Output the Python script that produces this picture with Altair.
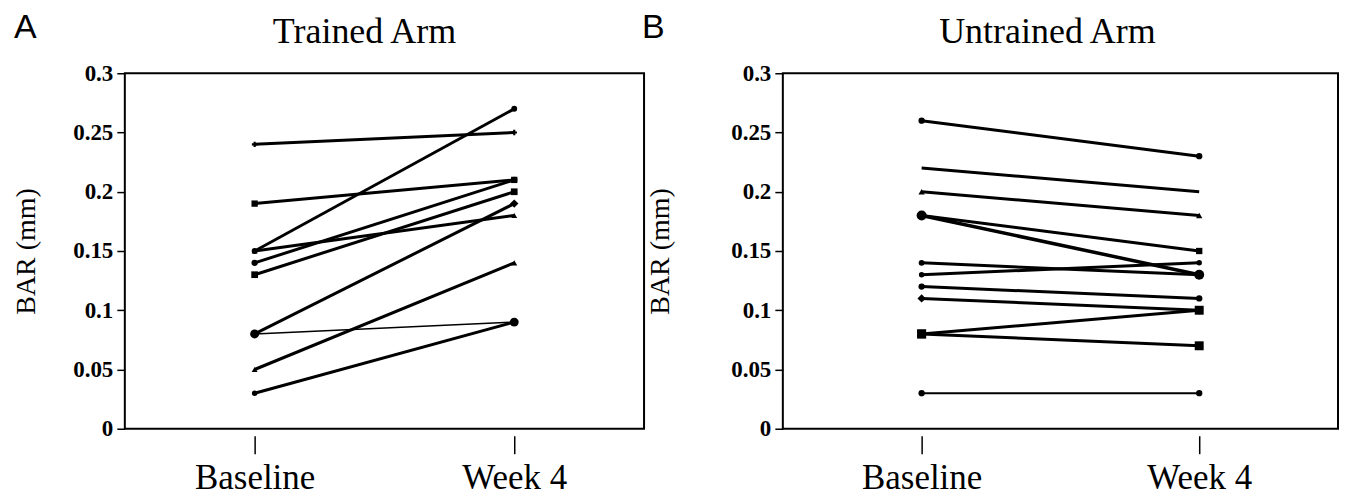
import altair as alt
import pandas as pd

# ---- data ----
times = [1, 2]  # 1 = Baseline, 2 = Week 4
time_labels = ["Baseline", "Week 4"]

trained_baseline = [0.24, 0.19, 0.15, 0.15, 0.14, 0.13, 0.08, 0.08, 0.05, 0.03]
trained_week4 = [0.25, 0.21, 0.27, 0.18, 0.21, 0.20, 0.19, 0.09, 0.14, 0.09]

untrained_baseline = [0.26, 0.22, 0.20, 0.18, 0.18, 0.14, 0.13, 0.12, 0.11, 0.08, 0.08, 0.03]
untrained_week4 = [0.23, 0.20, 0.18, 0.15, 0.13, 0.13, 0.14, 0.11, 0.10, 0.10, 0.07, 0.03]

y_ticks = [0, 0.05, 0.1, 0.15, 0.2, 0.25, 0.3]

# ---- marker styles per subject (styling only) ----
trained_shapes = ["cross", "square", "circle", "triangle-up", "circle", "square", "diamond", "circle", "triangle-up", "circle"]
trained_sizes = [30, 40, 35, 35, 40, 45, 70, 80, 35, 30]
trained_widths = [3, 3, 3, 3, 3, 3, 3, 1.5, 3, 3]

untrained_shapes = ["circle", "stroke", "triangle-up", "square", "circle", "circle", "circle", "circle", "diamond", "square", "square", "circle"]
untrained_sizes = [40, 20, 40, 40, 100, 35, 30, 40, 70, 80, 80, 40]
untrained_widths = [3, 3, 3, 3, 3.5, 3, 3, 3, 3, 3, 3, 2]

SERIF = "Liberation Serif"
SANS = "Liberation Sans"


def build_df(base, wk4, shapes, sizes, widths):
    rows = []
    for i, (b, w) in enumerate(zip(base, wk4)):
        for t, v in zip(times, [b, w]):
            rows.append({"subject": i, "time": t, "value": v,
                         "shape": shapes[i], "size": sizes[i], "sw": widths[i]})
    return pd.DataFrame(rows)


def panel(df, title, letter, width, title_x, letter_x, ytitle_pad):
    x_enc = alt.X("time:Q",
                  scale=alt.Scale(domain=[0.5, 2.5], nice=False, zero=False),
                  axis=alt.Axis(values=times, title=None, grid=False, domain=False,
                                offset=7, tickSize=18, tickWidth=1.5, tickColor="black",
                                labelExpr="datum.value == 1 ? 'Baseline' : 'Week 4'",
                                labelFont=SERIF, labelFontSize=35, labelColor="black",
                                labelPadding=7))
    y_enc = alt.Y("value:Q",
                  scale=alt.Scale(domain=[0, 0.3], nice=False),
                  axis=alt.Axis(values=y_ticks, format="~g", title="BAR (mm)", grid=False,
                                domain=False, tickSize=8, tickWidth=1.5, tickColor="black",
                                labelFont=SERIF, labelFontSize=23, labelFontWeight="bold",
                                labelColor="black", labelPadding=4,
                                titleFont=SERIF, titleFontSize=28, titleFontWeight="normal",
                                titleColor="black", titlePadding=ytitle_pad))
    lines = alt.Chart(df).mark_line(color="black").encode(
        x=x_enc, y=y_enc, detail="subject:N",
        strokeWidth=alt.StrokeWidth("sw:Q", scale=None),
    )
    points = alt.Chart(df).mark_point(filled=True, color="black", opacity=1).encode(
        x="time:Q", y="value:Q",
        shape=alt.Shape("shape:N", scale=None),
        size=alt.Size("size:Q", scale=None),
    )
    lab = alt.Chart(pd.DataFrame({"t": [letter]})).mark_text(
        font=SANS, fontSize=34, align="left", baseline="alphabetic", color="black"
    ).encode(text="t:N", x=alt.value(letter_x), y=alt.value(-35))
    ttl = alt.Chart(pd.DataFrame({"t": [title]})).mark_text(
        font=SERIF, fontSize=36, align="center", baseline="alphabetic", color="black"
    ).encode(text="t:N", x=alt.value(title_x), y=alt.value(-30))
    return alt.layer(lines, points, lab, ttl).properties(width=width, height=356)


left = panel(build_df(trained_baseline, trained_week4, trained_shapes, trained_sizes, trained_widths),
             "Trained Arm", "A", 520, 240, -111, 32)
right = panel(build_df(untrained_baseline, untrained_week4, untrained_shapes, untrained_sizes, untrained_widths),
              "Untrained Arm", "B", 556, 265, -141, 56)

chart = alt.hconcat(left, right, spacing=139, bounds="flush").configure(
    background="white",
    padding={"left": 3, "top": 2, "right": 0, "bottom": 0},
    view=alt.ViewConfig(stroke="black", strokeWidth=2),
)

chart.save("out.html", embed_options={"renderer": "svg", "actions": False})
